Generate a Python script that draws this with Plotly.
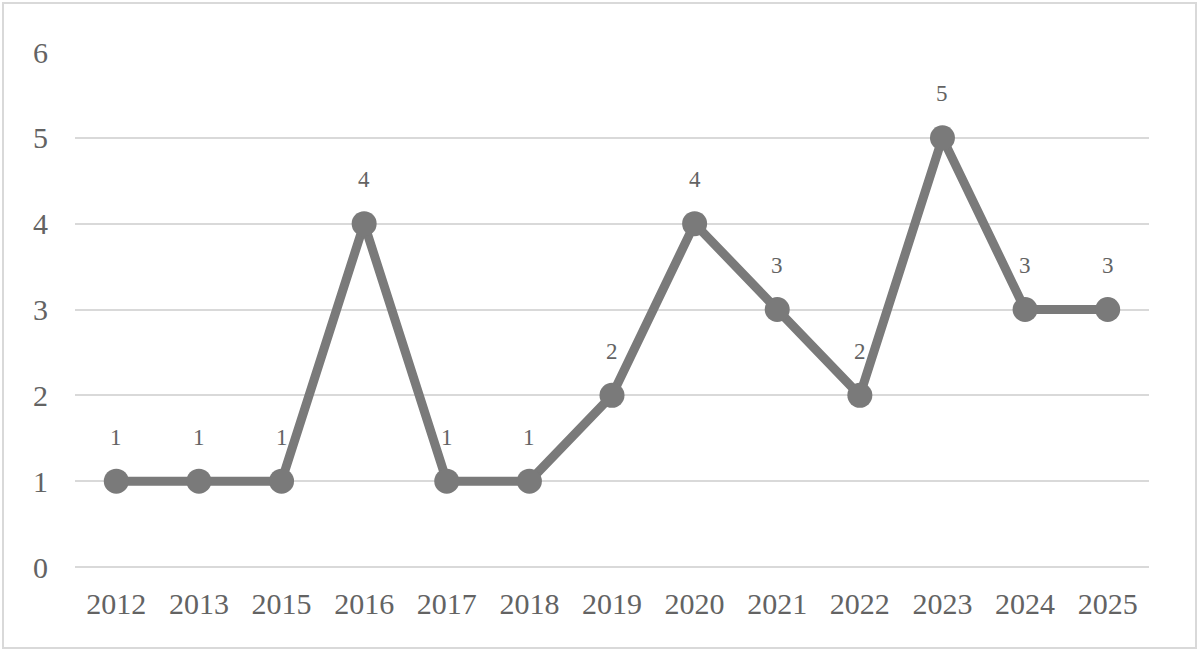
import plotly.graph_objects as go

years = ["2012", "2013", "2015", "2016", "2017", "2018", "2019",
         "2020", "2021", "2022", "2023", "2024", "2025"]
counts = [1, 1, 1, 4, 1, 1, 2, 4, 3, 2, 5, 3, 3]

W, H = 1200, 652
L, R, T, B = 75, 51, 52, 85
pw, ph = W - L - R, H - T - B

fig = go.Figure()
fig.add_trace(go.Scatter(
    x=years, y=counts,
    mode="lines+markers",
    line=dict(color="#7a7a7a", width=9),
    marker=dict(color="#7a7a7a", size=25),
    cliponaxis=False,
    hoverinfo="skip",
))

# value labels above the points (category index positions)
for i, c in enumerate(counts):
    fig.add_annotation(x=i, y=c, text=str(c), showarrow=False,
                       yshift=44,
                       font=dict(family="Liberation Serif", size=23,
                                 color="#636363"))

# outer chart border
fig.add_shape(type="rect", xref="paper", yref="paper",
              x0=(3 - L) / pw, x1=(1196 - L) / pw,
              y0=(H - B - 648) / ph, y1=(H - B - 3) / ph,
              line=dict(color="#d9d9d9", width=2), layer="below")

fig.update_layout(
    width=W, height=H,
    margin=dict(l=L, r=R, t=T, b=B, autoexpand=False),
    paper_bgcolor="white", plot_bgcolor="white",
    showlegend=False,
    font=dict(family="Liberation Serif", color="#636363"),
    xaxis=dict(type="category", range=[-0.5, len(years) - 0.5],
               showgrid=False, zeroline=False,
               showline=False, ticks="", automargin=False,
               ticklabelstandoff=16,
               tickfont=dict(size=30, color="#636363")),
    yaxis=dict(range=[0, 6], dtick=1, showgrid=True, gridcolor="#d9d9d9",
               gridwidth=2, zeroline=True, zerolinecolor="#d9d9d9",
               zerolinewidth=2, showline=False, ticks="", automargin=False,
               ticklabelstandoff=26,
               tickfont=dict(size=30, color="#636363")),
)

fig.write_html("out.html",
               config={"displayModeBar": False, "staticPlot": True},
               post_script="document.body.style.margin='0';"
                           "document.body.style.overflow='hidden';")
